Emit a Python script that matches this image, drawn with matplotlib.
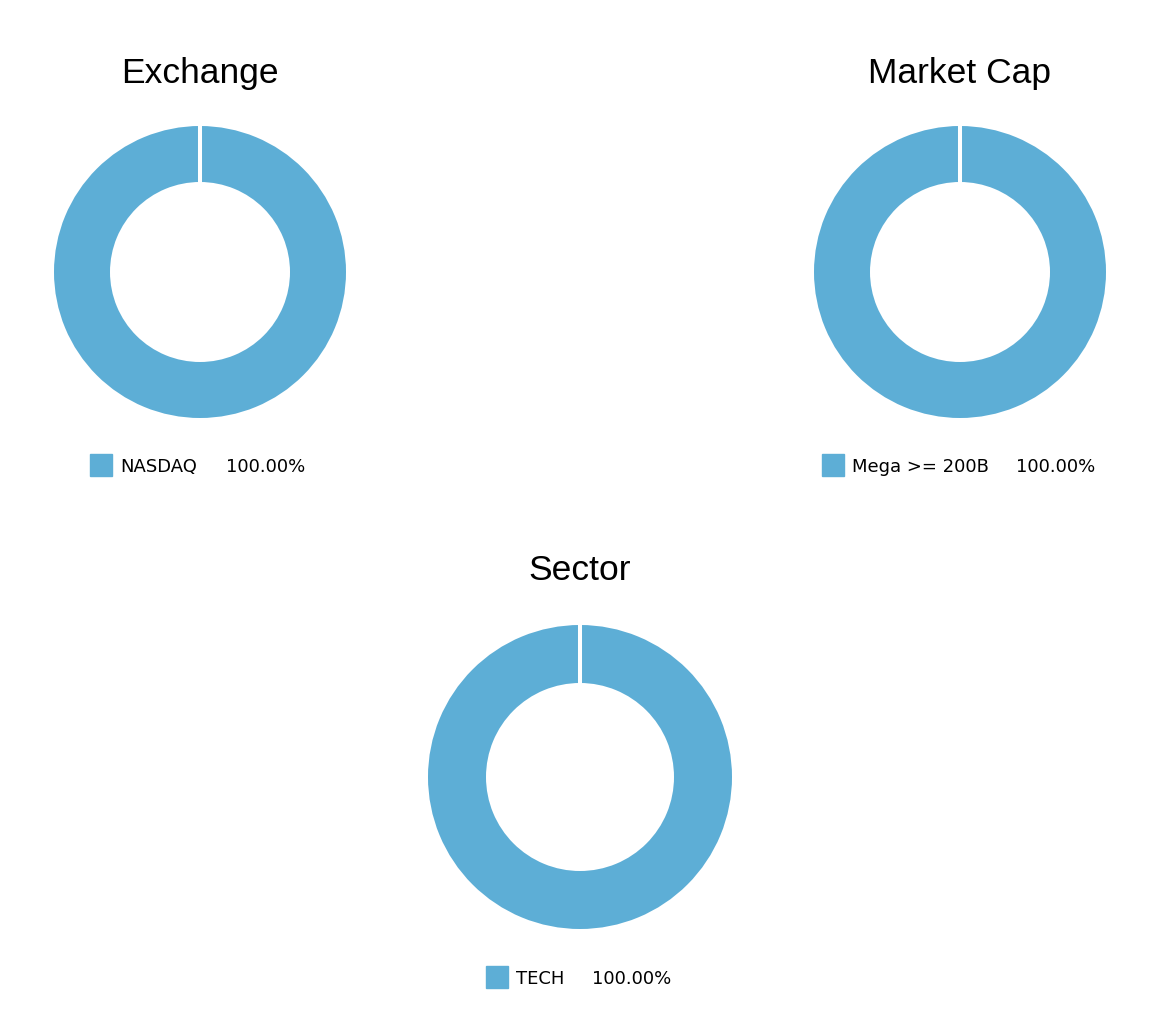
import matplotlib.pyplot as plt
from matplotlib.patches import Rectangle

# data
titles = ["Exchange", "Market Cap", "Sector"]
exchange_labels = ["NASDAQ"]
exchange_values = [100.0]
marketcap_labels = ["Mega >= 200B"]
marketcap_values = [100.0]
sector_labels = ["TECH"]
sector_values = [100.0]

color = "#5DAED6"

W, H = 1154, 1010
fig = plt.figure(figsize=(W / 100, H / 100), dpi=100)

def fx(px):
    return px / W

def fy(py):
    return 1 - py / H

# layout: center x, center y, outer radius, inner radius, title y, legend y, legend x (square, label, pct)
layout = [
    (200, 272, 146, 90, 74, 465, (90, 120, 226)),
    (960, 272, 146, 90, 74, 465, (822, 852, 1016)),
    (580, 777, 152, 94, 571, 977, (486, 516, 592)),
]
all_labels = [exchange_labels, marketcap_labels, sector_labels]
all_values = [exchange_values, marketcap_values, sector_values]

for title, labels, values, (cx, cy, ro, ri, ty, ly, lx) in zip(titles, all_labels, all_values, layout):
    ax = fig.add_axes([fx(cx - ro), fy(cy + ro), fx(2 * ro), 2 * ro / H])
    w = (ro - ri) / ro
    ax.pie(values, colors=[color] * len(values), startangle=90, counterclock=False,
           radius=1, wedgeprops=dict(width=w, linewidth=0))
    # white separator at slice start
    ax.plot([0, 0], [1 - w - 0.02, 1.02], color="white", lw=2.9, solid_capstyle="butt")
    ax.set_xlim(-1, 1)
    ax.set_ylim(-1, 1)
    ax.set_aspect("equal")
    ax.axis("off")

    fig.text(fx(cx), fy(ty), title, ha="center", va="center",
             fontsize=25.5, family="Liberation Sans")

    total = sum(values)
    for lab, v in zip(labels, values):
        sq, tx, px = lx
        fig.patches.append(Rectangle((fx(sq), fy(ly + 11)), fx(22), 22 / H,
                                     transform=fig.transFigure, color=color))
        fig.text(fx(tx), fy(ly + 7), lab, ha="left", va="baseline", fontsize=13, family="DejaVu Sans")
        fig.text(fx(px), fy(ly + 7), "%.2f%%" % (v / total * 100), ha="left", va="baseline",
                 fontsize=13, family="DejaVu Sans")

fig.savefig("out.png", dpi=100, facecolor="white")
